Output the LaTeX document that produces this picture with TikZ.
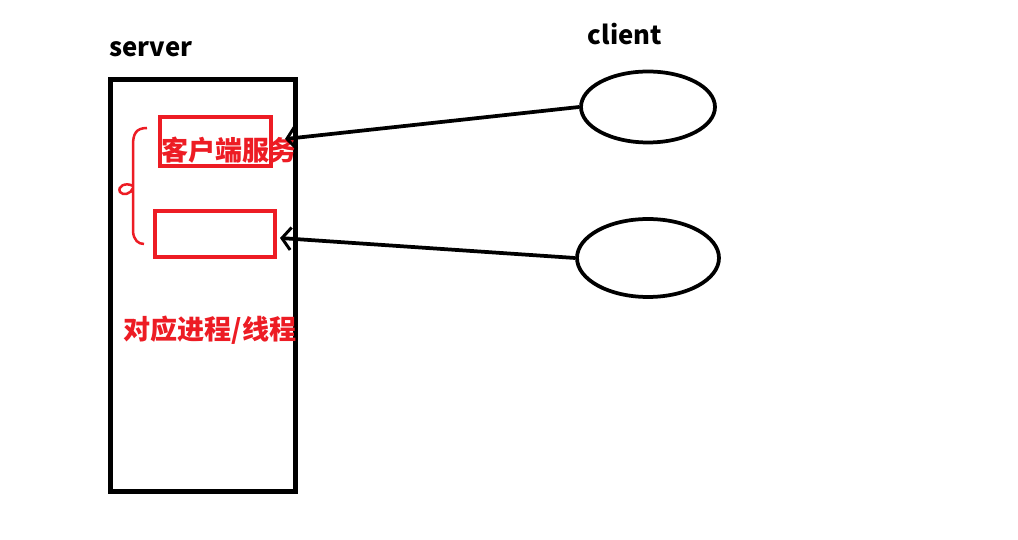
\documentclass[tikz,border=0pt]{standalone}
\usepackage{fontspec}
\usepackage{xcolor}
\usetikzlibrary{shapes.geometric,arrows.meta}
\newfontfamily\cjk{Noto Sans CJK SC}
\definecolor{paintred}{HTML}{ED1C24}
\tikzset{
	label text/.style={font=\cjk\bfseries\fontsize{14.6}{16}\selectfont, inner sep=0pt},
	red text/.style={font=\cjk\bfseries\fontsize{15.4}{18}\selectfont, text=paintred, inner sep=0pt},
	red box/.style={draw=paintred, line width=0.08cm, inner sep=0pt},
	client/.style={draw, ellipse, line width=0.075cm, inner sep=0pt},
	link/.style={line width=0.075cm, -{Straight Barb[length=0.18cm,width=0.45cm,line width=0.06cm]}},
}
\begin{document}
\begin{tikzpicture}[x=0.02cm, y=-0.02cm]
				\useasboundingbox (0,0) rectangle (1018,540);
				\fill [white] (0,0) rectangle (1018,540);
				\node [draw, line width=0.1cm, minimum width=3.72cm, minimum height=8.26cm, inner sep=0pt] (server) at (203,285.5) {};
				\node [label text] (serverlabel) at (151,49) {server};
				\node [label text] (clientlabel) at (625,34) {client};
				\node [client, minimum width=2.68cm, minimum height=1.42cm] (c1) at (648,107) {};
				\node [client, minimum width=2.84cm, minimum height=1.56cm] (c2) at (648,258) {};
				\node [red box, minimum width=2.22cm, minimum height=0.98cm] (box1) at (215.5,141.5) {};
				\node [red box, minimum width=2.4cm, minimum height=0.92cm] (box2) at (215,234) {};
				\node [red text] (service) at (229,150) {客户端服务};
				\node [red text] (process) at (210,330) {对应进程/线程};
				\draw [paintred, line width=0.05cm] (147,128) .. controls (136,128) and (133,134) .. (133,145) -- (133,186) .. controls (126,182) and (117,186) .. (120,192) .. controls (123,196) and (131,194) .. (133,188) -- (133,232) .. controls (134,240) and (138,244) .. (144,244);
				\coordinate (t1) at (285,139);
				\coordinate (t2) at (280,238);
				\draw [link] (c1.west) -- (t1);
				\draw [link] (c2.west) -- (t2);
			\end{tikzpicture}
\end{document}
